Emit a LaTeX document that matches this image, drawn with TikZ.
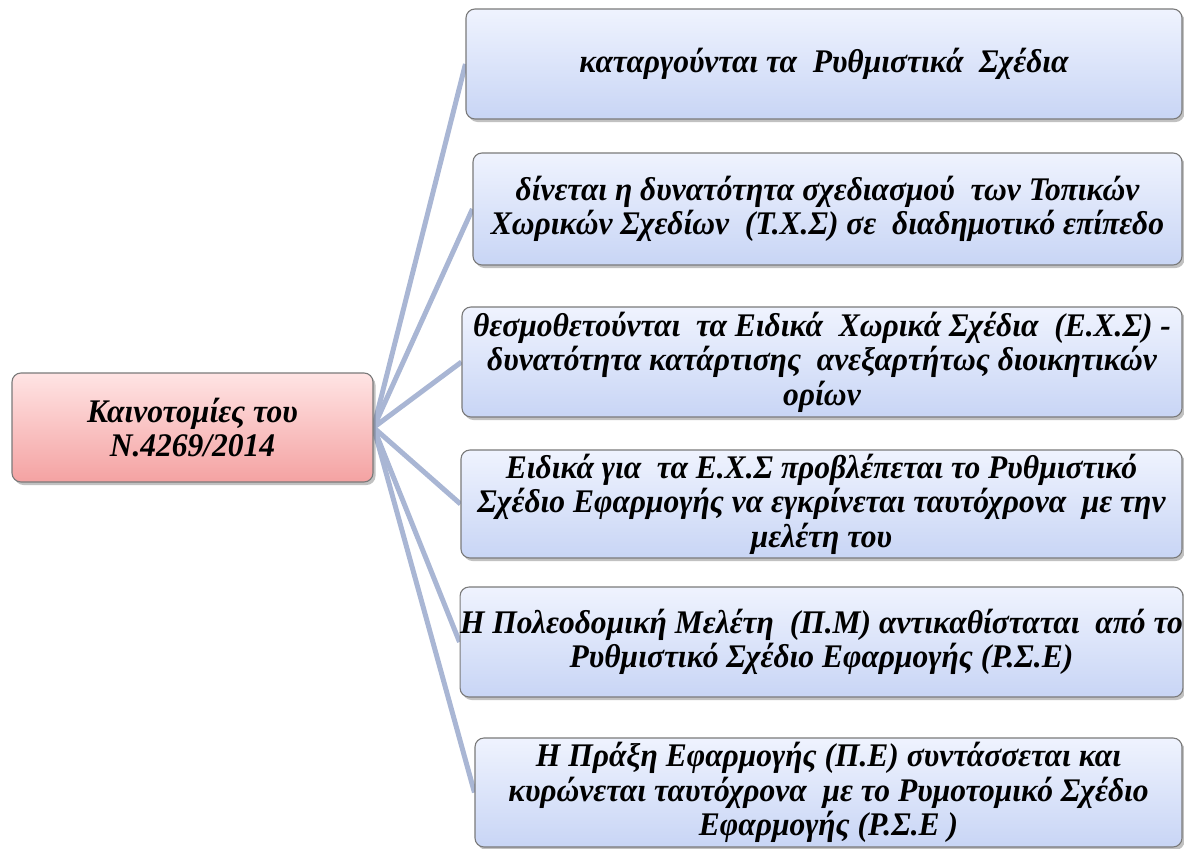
\documentclass[tikz,border=0pt]{standalone}
\usepackage{fontspec}
\newfontfamily\gkfont{Liberation Serif Bold Italic}[FakeStretch=0.955]
\usetikzlibrary{shadows,backgrounds}
\definecolor{linkc}{HTML}{A9B6D4}
\definecolor{boxtop}{HTML}{EFF3FE}
\definecolor{boxbot}{HTML}{C8D5F5}
\definecolor{roottop}{HTML}{FFE4E4}
\definecolor{rootbot}{HTML}{F4A2A2}
\definecolor{edgec}{HTML}{7A7A7A}
\tikzset{
  card/.style={draw=edgec, line width=1.1pt, rounded corners=9pt, align=center,
    inner sep=0pt, font=\gkfont\fontsize{33}{34.5}\selectfont,
    drop shadow={shadow xshift=2.5pt, shadow yshift=-3pt, opacity=0.35, fill=black!70}},
  leaf/.style={card, top color=boxtop, bottom color=boxbot},
  rootbox/.style={card, top color=roottop, bottom color=rootbot},
  link/.style={draw=linkc, line width=5pt}
}
\begin{document}
\begin{tikzpicture}[x=1pt,y=-1pt]
\useasboundingbox (0,0) rectangle (1184,849);
\node[rootbox, minimum width=361pt, minimum height=109pt] (root) at (192.5,427.5)
  {Καινοτομίες του\\Ν.4269/2014};
\node[leaf, minimum width=716pt, minimum height=110pt] (b1) at (824,64)
  {καταργούνται τα\ \ Ρυθμιστικά\ \ Σχέδια};
\node[leaf, minimum width=709pt, minimum height=112pt] (b2) at (827.5,209)
  {δίνεται η δυνατότητα σχεδιασμού\ \ των Τοπικών\\Χωρικών Σχεδίων\ \ (Τ.Χ.Σ) σε\ \ διαδημοτικό επίπεδο};
\node[leaf, minimum width=720pt, minimum height=110pt] (b3) at (822,362)
  {θεσμοθετούνται\ \ τα Ειδικά\ \ Χωρικά Σχέδια\ \ (Ε.Χ.Σ) -\\δυνατότητα κατάρτισης\ \ ανεξαρτήτως διοικητικών\\ορίων};
\node[leaf, minimum width=721pt, minimum height=108pt] (b4) at (821.5,504)
  {Ειδικά για\ \ τα Ε.Χ.Σ προβλέπεται το Ρυθμιστικό\\Σχέδιο Εφαρμογής να εγκρίνεται ταυτόχρονα\ \ με την\\μελέτη του};
\node[leaf, minimum width=721pt, minimum height=110pt] (b5) at (821.5,642)
  {Η Πολεοδομική Μελέτη\ \ (Π.Μ) αντικαθίσταται\ \ από το\\Ρυθμιστικό Σχέδιο Εφαρμογής (Ρ.Σ.Ε)};
\node[leaf, minimum width=707pt, minimum height=109pt] (b6) at (828.5,792.5)
  {Η Πράξη Εφαρμογής (Π.Ε) συντάσσεται και\\κυρώνεται ταυτόχρονα\ \ με το Ρυμοτομικό Σχέδιο\\Εφαρμογής (Ρ.Σ.Ε )};
\begin{scope}[on background layer]
\foreach \b in {b1,b2,b3,b4,b5,b6}
  \draw[link] (root.east) -- (\b.west);
\end{scope}
\end{tikzpicture}
\end{document}
